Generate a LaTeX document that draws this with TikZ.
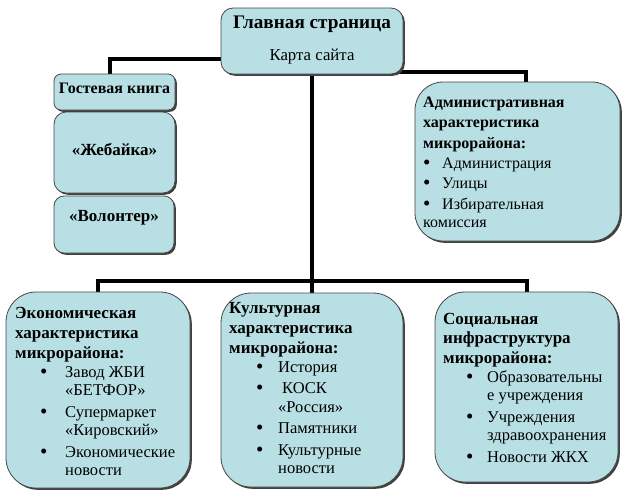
\documentclass[tikz,border=0pt]{standalone}
\usepackage{fontspec}
\setmainfont{Liberation Serif}
\usetikzlibrary{shadows,backgrounds}
\definecolor{boxfill}{RGB}{184,223,227}
\definecolor{boxline}{RGB}{70,70,70}
\newlength\bulx
\newlength\bulw
\newcommand\fs[2]{\fontsize{#1}{#2}\selectfont}
\newcommand\bigdot{\raisebox{-1.2pt}{\fontsize{21}{21}\selectfont •}}
\newcommand\bul[1]{\hspace*{\bulx}\makebox[\bulw][l]{\bigdot}#1}
\newcommand\cnt[1]{\hspace*{\dimexpr\bulx+\bulw\relax}#1}
\begin{document}
\begin{tikzpicture}[x=1pt,y=-1pt,
  box/.style={draw=boxline, fill=boxfill, line width=0.8pt, inner sep=0pt,
    drop shadow={shadow xshift=1.8pt, shadow yshift=-1.8pt, fill=black!75, opacity=1}},
  conn/.style={draw=black, line width=3.2pt},
  txt/.style={inner sep=0pt, anchor=base west},
  ctxt/.style={inner sep=0pt, anchor=base}]
\useasboundingbox (0,0) rectangle (628,498);
% boxes
\node[box, rounded corners=12pt, minimum width=182pt, minimum height=66pt] (main) at (312,41) {};
\node[box, rounded corners=7pt, minimum width=121pt, minimum height=36pt] (guest) at (114.5,92) {};
\node[box, rounded corners=12pt, minimum width=121pt, minimum height=81pt] (zheb) at (114.5,152.5) {};
\node[box, rounded corners=10pt, minimum width=120pt, minimum height=57pt] (volo) at (114,224.5) {};
\node[box, rounded corners=28pt, minimum width=205pt, minimum height=159pt] (admin) at (517.5,161.5) {};
\node[box, rounded corners=30pt, minimum width=184pt, minimum height=196pt] (econ) at (98,390) {};
\node[box, rounded corners=30pt, minimum width=182pt, minimum height=194pt] (cult) at (312,390) {};
\node[box, rounded corners=30pt, minimum width=183pt, minimum height=190pt] (soc) at (526.5,387) {};
\coordinate (bus) at (312,281);
% connectors
\begin{pgfonlayer}{background}
\draw[conn] ([yshift=-18pt]main.center) -| ([xshift=-4.5pt]guest.center);
\draw[conn] ([yshift=-31pt]main.center) -| ([xshift=8.5pt]admin.center);
\draw[conn] (main.center) -- (bus);
\draw[conn] (bus) -| (econ.center);
\draw[conn] (bus) -- (cult.center);
\draw[conn] (bus) -| ([xshift=0.5pt]soc.center);
\end{pgfonlayer}
% texts
\node[ctxt] (mainT1) at (312,28.5) {\fs{19.2}{21}\bfseries Главная страница};
\node[ctxt] (mainT2) at (312,60) {\fs{16.8}{19}Карта сайта};
\node[ctxt] (guestT) at (114.5,93) {\fs{16}{18}\bfseries Гостевая книга};
\node[ctxt] (zhebT) at (114.5,155.5) {\fs{17}{19}\bfseries «Жебайка»};
\node[ctxt] (voloT) at (114,221.5) {\fs{17}{19}\bfseries «Волонтер»};
\node[txt] (adminT) at (423,107.5) {\fs{16}{20.3}\setlength\bulx{0pt}\setlength\bulw{19pt}%
  \parbox[t]{195pt}{\raggedright\bfseries Административная\\ характеристика\\ микрорайона:\\
  \mdseries\bul{Администрация}\\ \bul{Улицы}\\ \bul{Избирательная}\\[-2pt] комиссия}};
\node[txt] (econT) at (15,318) {\fs{16.5}{18.5}\setlength\bulx{25pt}\setlength\bulw{25pt}%
  \parbox[t]{180pt}{\raggedright\fontsize{17}{18.5}\selectfont\bfseries Экономическая\\[1.5pt] характеристика\\[1.5pt] микрорайона:\\[0.5pt]
  \fontsize{16.5}{18.5}\selectfont\mdseries\bul{Завод ЖБИ}\\ \cnt{«БЕТФОР»}\\[3pt] \bul{Супермаркет}\\ \cnt{«Кировский»}\\[3pt]
  \bul{Экономические}\\ \cnt{новости}}};
\node[txt] (cultT) at (229,313) {\fs{16.5}{18.5}\setlength\bulx{27pt}\setlength\bulw{22pt}%
  \parbox[t]{180pt}{\raggedright\fontsize{17}{18.5}\selectfont\bfseries Культурная\\[1.5pt] характеристика\\[1.5pt] микрорайона:\\[0.5pt]
  \fontsize{16.5}{18.5}\selectfont\mdseries\bul{История}\\[3pt] \bul{\hspace*{4pt}КОСК}\\ \cnt{«Россия»}\\[3pt] \bul{Памятники}\\[3pt]
  \bul{Культурные}\\ \cnt{новости}}};
\node[txt] (socT) at (443,324) {\fs{16.5}{18.5}\setlength\bulx{23pt}\setlength\bulw{21pt}%
  \parbox[t]{180pt}{\raggedright\fontsize{17}{18.5}\selectfont\bfseries Социальная\\[1pt] инфраструктура\\[1pt] микрорайона:\\[0.5pt]
  \fontsize{16.5}{18.5}\selectfont\mdseries\bul{Образовательны}\\ \cnt{е учреждения}\\[3pt] \bul{Учреждения}\\ \cnt{здравоохранения}\\[3pt]
  \bul{Новости ЖКХ}}};
\end{tikzpicture}
\end{document}
